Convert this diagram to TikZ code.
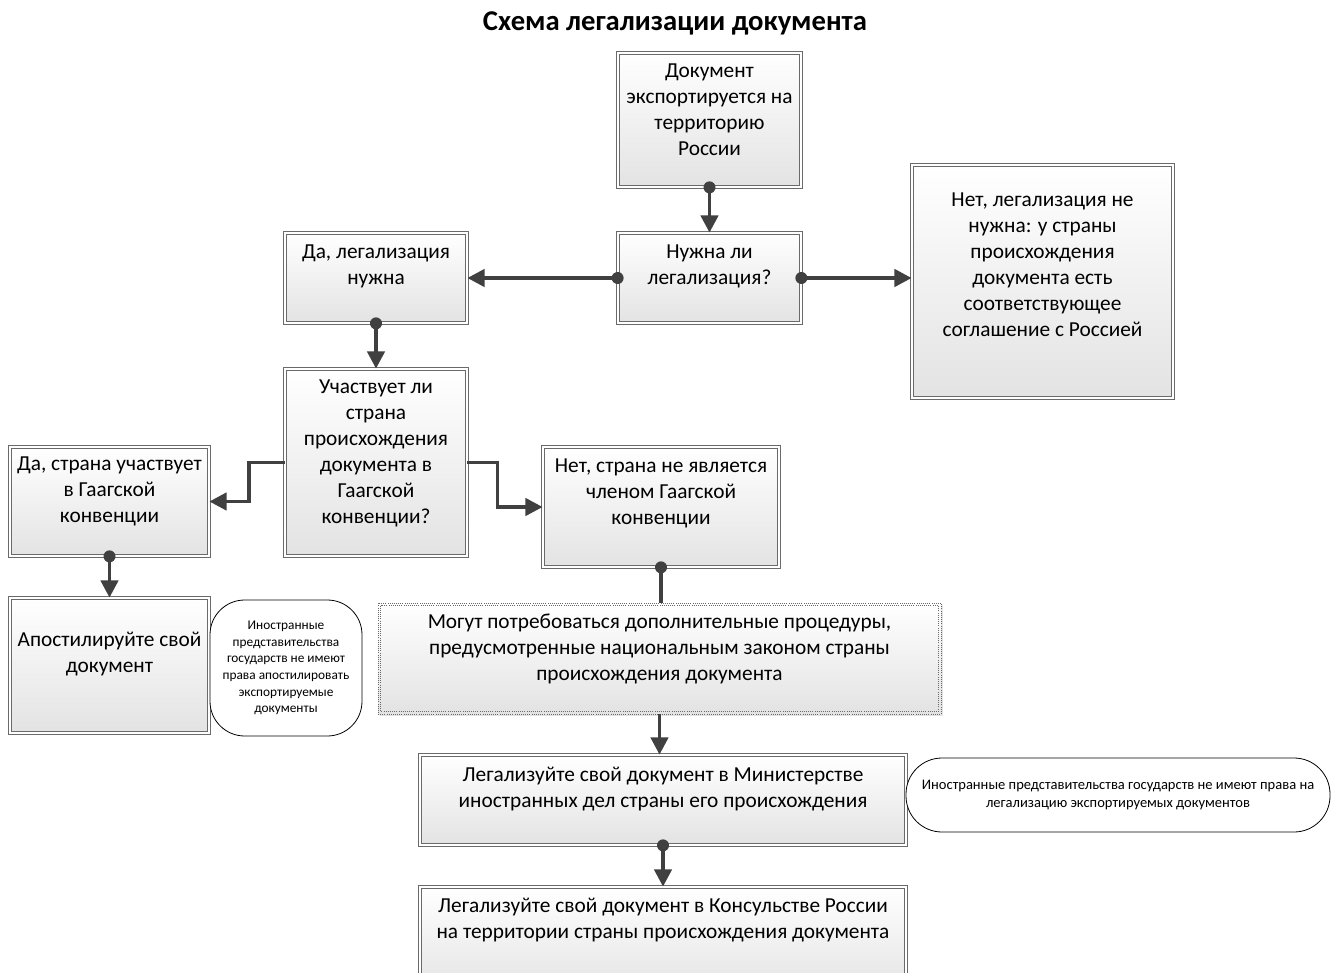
\documentclass[tikz,border=0pt]{standalone}
\usepackage{fontspec}
\setmainfont{Carlito}
\usetikzlibrary{arrows.meta,fit,shadows,calc}
\definecolor{ln}{HTML}{404040}
\definecolor{bd}{HTML}{6A6A6A}
\tikzset{
  box/.style={draw=bd, double=white, double distance=1.5pt, line width=0.55pt,
    top color=white, bottom color=black!11, inner sep=0pt,
    drop shadow={shadow xshift=1.6pt, shadow yshift=-1.6pt, opacity=0.22}},
  dotbox/.style={draw=bd, densely dotted, line width=0.6pt,
    top color=white, bottom color=black!11, inner sep=0pt,
    drop shadow={shadow xshift=1.6pt, shadow yshift=-1.6pt, opacity=0.22}},
  txt/.style={font=\fontsize{16}{19.5}\selectfont, align=center, inner sep=0pt, anchor=north},
  note/.style={draw=black, line width=0.6pt, fill=white, inner sep=0pt},
  notetxt/.style={font=\fontsize{10}{12.5}\selectfont, align=center, inner sep=0pt},
  conn/.style={draw=ln, line width=2.8pt, -{Triangle[length=13pt,width=13pt]}},
  link/.style={draw=ln, line width=2.8pt},
  title/.style={font=\fontsize{21.5}{25}\selectfont\bfseries, inner sep=0pt},
}
\begin{document}
\begin{tikzpicture}[x=0.75pt,y=-0.75pt]
\useasboundingbox (0,0) rectangle (1341,973);
\clip (0,0) rectangle (1341,973);
\fill[white] (0,0) rectangle (1341,973);

\node[title] (T) at (675,23) {Схема легализации документа};

% boxes
\node[box, fit={(618,53) (801,187)}] (A) {};
\node[box, fit={(618,233) (801,323)}] (B) {};
\node[box, fit={(912,165) (1173,398)}] (C) {};
\node[box, fit={(285,233) (467,323)}] (D) {};
\node[box, fit={(285,369) (467,556)}] (E) {};
\node[box, fit={(10,447) (209,556)}] (F) {};
\node[box, fit={(543,447) (779,567)}] (G) {};
\node[box, fit={(10,598) (209,733)}] (H) {};
\node[dotbox, fit={(378,603) (941,714)}] (I) {};
\draw[draw=bd, densely dotted, line width=0.6pt] ([shift={(3,3)}]I.north west) rectangle ([shift={(-3,-3)}]I.south east);
\node[box, fit={(420,755) (906,845)}] (J) {};
\node[box, fit={(420,887) (906,995)}] (K) {};

% notes
\node[note, rounded corners=26pt, fit={(210,600) (362,736)}] (N1) {};
\node[note, rounded corners=27pt, fit={(906,758) (1330,832)}] (N2) {};

% texts
\node[txt] (At) at (709.5,64) {Документ\\экспортируется на\\территорию\\России};
\node[txt] (Bt) at (709.5,245) {Нужна ли\\легализация?};
\node[txt] (Ct) at (1042.5,193) {Нет, легализация не\\нужна: у страны\\происхождения\\документа есть\\соответствующее\\соглашение с Россией};
\node[txt] (Dt) at (376,245) {Да, легализация\\нужна};
\node[txt] (Et) at (376,380) {Участвует ли\\страна\\происхождения\\документа в\\Гаагской\\конвенции?};
\node[txt] (Ft) at (109.5,457) {Да, страна участвует\\в Гаагской\\конвенции};
\node[txt] (Gt) at (661,459) {Нет, страна не является\\членом Гаагской\\конвенции};
\node[txt] (Ht) at (109.5,632) {Апостилируйте свой\\документ};
\node[txt] (It) at (659.5,614) {Могут потребоваться дополнительные процедуры,\\предусмотренные национальным законом страны\\происхождения документа};
\node[txt] (Jt) at (663,767) {Легализуйте свой документ в Министерстве\\иностранных дел страны его происхождения};
\node[txt] (Kt) at (663,898) {Легализуйте свой документ в Консульстве России\\на территории страны происхождения документа};
\node[notetxt] (N1t) at (N1.center) {Иностранные\\представительства\\государств не имеют\\права апостилировать\\экспортируемые\\документы};
\node[notetxt, font=\fontsize{10.9}{13.5}\selectfont] (N2t) at (N2.center) {Иностранные представительства государств не имеют права на\\легализацию экспортируемых документов};

% connectors
\draw[conn] (A.south) -- (B.north);
\fill[ln] (A.south) circle (4.5pt);
\draw[conn] (B.west) -- (B.west -| D.east);
\fill[ln] (B.west) circle (4.5pt);
\draw[conn] (B.east) -- (B.east -| C.west);
\fill[ln] (B.east) circle (4.5pt);
\draw[conn] (D.south) -- (E.north);
\fill[ln] (D.south) circle (4.5pt);
\draw[conn] (E.west) -- ++(-36,0) |- (F.east);
\draw[conn] (E.east) -- ++(30,0) |- (G.west);
\draw[conn] (F.south) -- (H.north);
\fill[ln] (F.south) circle (4.5pt);
\draw[link] (G.south) -- (G.south |- I.north);
\fill[ln] (G.south) circle (4.5pt);
\draw[conn] (I.south) -- (I.south |- J.north);
\draw[conn] (J.south) -- (J.south |- K.north);
\fill[ln] (J.south) circle (4.5pt);
\end{tikzpicture}
\end{document}
